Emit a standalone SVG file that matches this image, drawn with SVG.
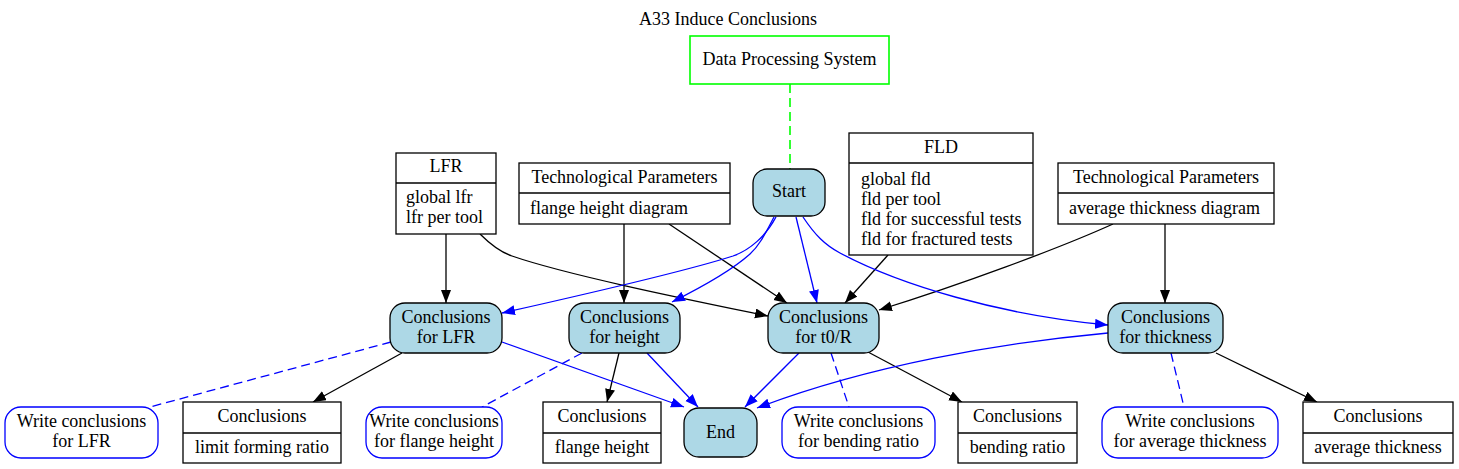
<svg xmlns="http://www.w3.org/2000/svg" width="1459" height="469" viewBox="0 0 1459 469">
<style>
text{font-family:"Liberation Serif","Times New Roman",serif;font-size:18px;fill:#000}
.c{text-anchor:middle}
.rec{fill:#fff;stroke:#000;stroke-width:1.3}
.proc{fill:#add8e6;stroke:#000;stroke-width:1.3}
.wr{fill:#fff;stroke:#0000ff;stroke-width:1.3}
.e{fill:none;stroke:#000;stroke-width:1.3}
.b{fill:none;stroke:#0000ff;stroke-width:1.3}
.bd{fill:none;stroke:#0000ff;stroke-width:1.3;stroke-dasharray:9,5}
.gd{fill:none;stroke:#00ff00;stroke-width:1.6;stroke-dasharray:9,5}
</style>
<defs>
<marker id="ak" markerUnits="userSpaceOnUse" markerWidth="14" markerHeight="11" refX="13" refY="5" orient="auto"><path d="M0,0 L13,5 L0,10 z" fill="#000"/></marker>
<marker id="ab" markerUnits="userSpaceOnUse" markerWidth="14" markerHeight="11" refX="13" refY="5" orient="auto"><path d="M0,0 L13,5 L0,10 z" fill="#0000ff"/></marker>
</defs>
<rect width="1459" height="469" fill="#fff"/>
<text class="c" x="728" y="25">A33 Induce Conclusions</text>

<g id="edges">
<path class="gd" d="M790,84 L790,169"/>
<path class="e" marker-end="url(#ak)" d="M446,234 L446,303"/>
<path class="e" marker-end="url(#ak)" d="M480,234 C490,244 500,252 512,256 C570,276 700,302 768,316"/>
<path class="e" marker-end="url(#ak)" d="M624,224 L624,303"/>
<path class="e" marker-end="url(#ak)" d="M669,224 L787,303"/>
<path class="e" marker-end="url(#ak)" d="M888,255 L845,303"/>
<path class="e" marker-end="url(#ak)" d="M1113,224 C1060,248 960,285 879,310"/>
<path class="e" marker-end="url(#ak)" d="M1165,224 L1165,303"/>
<path class="e" marker-end="url(#ak)" d="M402,353 L313,402"/>
<path class="e" marker-end="url(#ak)" d="M619,353 L607,402"/>
<path class="e" marker-end="url(#ak)" d="M868,352 L962,402"/>
<path class="e" marker-end="url(#ak)" d="M1216,353 L1317,402"/>
<path class="b" marker-end="url(#ab)" d="M776,217 C766,236 750,250 733,256 C680,273 560,300 502,313"/>
<path class="b" marker-end="url(#ab)" d="M774,217 C766,232 760,245 750,254 C730,272 700,288 672,302"/>
<path class="b" marker-end="url(#ab)" d="M796,217 L817,303"/>
<path class="b" marker-end="url(#ab)" d="M803,217 C815,235 825,245 840,253 C900,285 1000,315 1108,325"/>
<path class="b" marker-end="url(#ab)" d="M502,342 L684,407"/>
<path class="b" marker-end="url(#ab)" d="M647,353 L698,407"/>
<path class="b" marker-end="url(#ab)" d="M799,353 L745,407"/>
<path class="b" marker-end="url(#ab)" d="M1108,333 C1000,343 870,365 757,408"/>
<path class="bd" d="M391,342 L150,407"/>
<path class="bd" d="M582,353 L482,407"/>
<path class="bd" d="M831,353 L849,407"/>
<path class="bd" d="M1171,353 L1184,407"/>
</g>

<g id="dps">
<rect x="690" y="36" width="199" height="48" fill="#fff" stroke="#00ff00" stroke-width="1.6"/>
<text class="c" x="789.5" y="65">Data Processing System</text>
</g>

<g id="start">
<rect class="proc" x="753" y="169" width="72" height="47" rx="14"/>
<text class="c" x="789" y="197">Start</text>
</g>

<g id="lfr">
<rect class="rec" x="396" y="153" width="100" height="81"/>
<line class="e" x1="396" y1="183" x2="496" y2="183"/>
<text class="c" x="446" y="172">LFR</text>
<text x="406" y="203">global lfr</text>
<text x="406" y="223">lfr per tool</text>
</g>

<g id="tp1">
<rect class="rec" x="519" y="163" width="211" height="61"/>
<line class="e" x1="519" y1="193" x2="730" y2="193"/>
<text class="c" x="624.5" y="183">Technological Parameters</text>
<text x="530" y="214">flange height diagram</text>
</g>

<g id="fld">
<rect class="rec" x="849" y="133" width="184" height="122"/>
<line class="e" x1="849" y1="163" x2="1033" y2="163"/>
<text class="c" x="941" y="153">FLD</text>
<text x="861" y="185">global fld</text>
<text x="861" y="205">fld per tool</text>
<text x="861" y="225">fld for successful tests</text>
<text x="861" y="245">fld for fractured tests</text>
</g>

<g id="tp2">
<rect class="rec" x="1058" y="163" width="216" height="61"/>
<line class="e" x1="1058" y1="193" x2="1274" y2="193"/>
<text class="c" x="1166" y="183">Technological Parameters</text>
<text x="1069" y="214">average thickness diagram</text>
</g>

<g id="c_lfr">
<rect class="proc" x="390" y="303" width="112" height="50" rx="15"/>
<text class="c" x="446" y="323">Conclusions</text>
<text class="c" x="446" y="343">for LFR</text>
</g>

<g id="c_height">
<rect class="proc" x="569" y="303" width="111" height="50" rx="15"/>
<text class="c" x="624.5" y="323">Conclusions</text>
<text class="c" x="624.5" y="343">for height</text>
</g>

<g id="c_t0r">
<rect class="proc" x="768" y="303" width="111" height="50" rx="15"/>
<text class="c" x="823.5" y="323">Conclusions</text>
<text class="c" x="823.5" y="343">for t0/R</text>
</g>

<g id="c_thickness">
<rect class="proc" x="1108" y="303" width="115" height="50" rx="15"/>
<text class="c" x="1165.5" y="323">Conclusions</text>
<text class="c" x="1165.5" y="343">for thickness</text>
</g>

<g id="w_lfr">
<rect class="wr" x="5" y="407" width="153" height="51" rx="16"/>
<text class="c" x="81.5" y="427">Write conclusions</text>
<text class="c" x="81.5" y="447">for LFR</text>
</g>

<g id="o_lfr">
<rect class="rec" x="183" y="402" width="158" height="61"/>
<line class="e" x1="183" y1="433" x2="341" y2="433"/>
<text class="c" x="262" y="422">Conclusions</text>
<text class="c" x="262" y="453">limit forming ratio</text>
</g>

<g id="w_height">
<rect class="wr" x="366" y="407" width="136" height="51" rx="16"/>
<text class="c" x="434" y="427">Write conclusions</text>
<text class="c" x="434" y="447">for flange height</text>
</g>

<g id="o_height">
<rect class="rec" x="543" y="402" width="118" height="61"/>
<line class="e" x1="543" y1="433" x2="661" y2="433"/>
<text class="c" x="602" y="422">Conclusions</text>
<text class="c" x="602" y="453">flange height</text>
</g>

<g id="end">
<rect class="proc" x="684" y="408" width="73" height="49" rx="15"/>
<text class="c" x="720.5" y="438">End</text>
</g>

<g id="w_t0r">
<rect class="wr" x="782" y="407" width="153" height="51" rx="16"/>
<text class="c" x="858.5" y="427">Write conclusions</text>
<text class="c" x="858.5" y="447">for bending ratio</text>
</g>

<g id="o_t0r">
<rect class="rec" x="958" y="402" width="119" height="61"/>
<line class="e" x1="958" y1="433" x2="1077" y2="433"/>
<text class="c" x="1017.5" y="422">Conclusions</text>
<text class="c" x="1017.5" y="453">bending ratio</text>
</g>

<g id="w_thickness">
<rect class="wr" x="1102" y="407" width="176" height="51" rx="16"/>
<text class="c" x="1190" y="427">Write conclusions</text>
<text class="c" x="1190" y="447">for average thickness</text>
</g>

<g id="o_thickness">
<rect class="rec" x="1303" y="402" width="150" height="61"/>
<line class="e" x1="1303" y1="433" x2="1453" y2="433"/>
<text class="c" x="1378" y="422">Conclusions</text>
<text class="c" x="1378" y="453">average thickness</text>
</g>
</svg>
